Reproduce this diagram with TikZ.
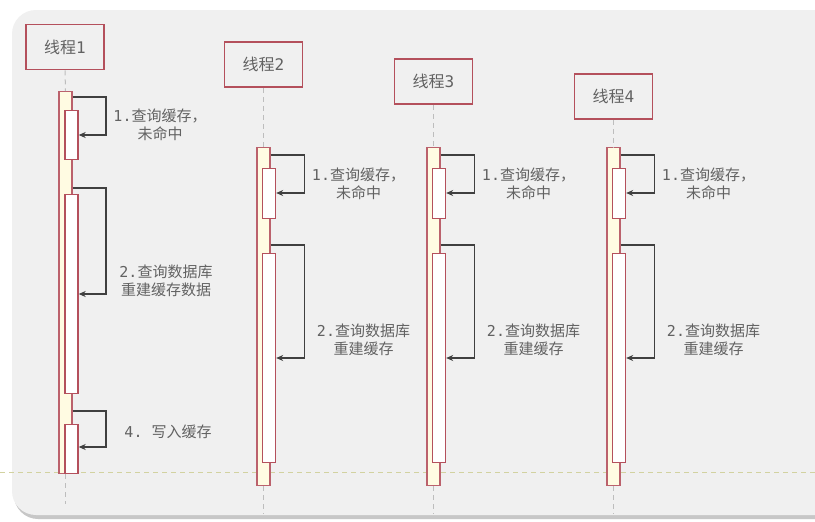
\documentclass[tikz,border=0pt]{standalone}
\usepackage{fontspec}
\setmainfont{Noto Sans CJK SC}
\newfontfamily\monofnt{DejaVu Sans Mono}
\usetikzlibrary{arrows.meta}
\definecolor{bgpanel}{HTML}{F0F0F0}
\definecolor{redb}{HTML}{B4505C}
\definecolor{cream}{HTML}{FFFBE2}
\definecolor{arr}{HTML}{404040}
\definecolor{txt}{HTML}{626262}
\definecolor{life}{HTML}{BDBDBD}
\definecolor{sep}{HTML}{D2D2A0}
\begin{document}
\begin{tikzpicture}[x=1pt,y=-1pt,
  head/.style={draw=redb,line width=1.8pt,fill=bgpanel,minimum width=78pt,minimum height=45pt,inner sep=0,font=\fontsize{16}{16}\selectfont,text=txt},
  bar/.style={draw=redb!90,line width=1.4pt,fill=cream,minimum width=13pt,anchor=north,inner sep=0},
  act/.style={draw=redb,line width=1.4pt,fill=white,minimum width=13pt,anchor=north,inner sep=0},
  msg/.style={draw=arr,line width=1.1pt,-{Stealth[length=7pt,width=6pt]}},
  lbl/.style={text=txt,font=\fontsize{15}{18.5}\selectfont,align=center,inner sep=0},
  lifel/.style={draw=life,dashed,line width=1pt,dash pattern=on 5pt off 4pt}]
\useasboundingbox (0,0) rectangle (815,522);
\fill[white] (0,0) rectangle (815,522);
% panel with shadow
\fill[black!22,rounded corners=24pt] (14,13) rectangle (850,519);
\fill[bgpanel,rounded corners=24pt] (12,10) rectangle (850,515);
% separator
\draw[sep,dashed,line width=0.8pt,dash pattern=on 5pt off 4pt] (0,472) -- (815,472);

% ---------- thread 1 ----------
\node[head] (h1) at (65,47) {线程\monofnt 1};
\node[bar,minimum height=382pt] (b1) at (65.5,91) {};
\coordinate (e1) at (65.5,504);
\draw[lifel] (h1.south) -- (b1.north);
\draw[lifel] (b1.south) -- (e1);
\node[act,minimum height=49pt] (a11) at (71.5,110) {};
\node[act,minimum height=199pt] (a12) at (71.5,194) {};
\node[act,minimum height=49pt] (a13) at (71.5,424) {};
\draw[msg] (b1.east |- 0,97) -- (106,97) |- (a11.east |- 0,135);
\draw[msg] (b1.east |- 0,188) -- (106,188) |- (a12.east |- 0,294);
\draw[msg] (b1.east |- 0,411) -- (106,411) |- (a13.east |- 0,447);
\node[lbl] (l11) at (160,125) {{\monofnt 1.}查询缓存，\\未命中};
\node[lbl] (l12) at (166,281) {{\monofnt 2.}查询数据库\\ 重建缓存数据};
\node[lbl] (l13) at (168,432) {{\monofnt 4.}\hspace{9pt}写入缓存};

% ---------- threads 2-4 ----------
\foreach \i/\x/\hy in {2/263.5/64.5, 3/433.5/81.5, 4/613.5/96.5}{
  \node[head] (h\i) at (\x,\hy) {线程\monofnt \i};
  \node[bar,minimum height=338pt] (b\i) at (\x,147) {};
  \coordinate (e\i) at (\x,514);
  \draw[lifel] (h\i.south) -- (b\i.north);
  \draw[lifel] (b\i.south) -- (e\i);
  \node[act,minimum height=50pt] (a\i1) at (\x+5.5,168) {};
  \node[act,minimum height=209pt] (a\i2) at (\x+5.5,253) {};
  \draw[msg] (b\i.east |- 0,155) -- (\x+41,155) |- (a\i1.east |- 0,193);
  \draw[msg] (b\i.east |- 0,245) -- (\x+41,245) |- (a\i2.east |- 0,358);
  \node[lbl] (l\i1) at (\x+95,184) {{\monofnt 1.}查询缓存，\\未命中};
  \node[lbl] (l\i2) at (\x+100,340) {{\monofnt 2.}查询数据库\\重建缓存};
}
\end{tikzpicture}
\end{document}
